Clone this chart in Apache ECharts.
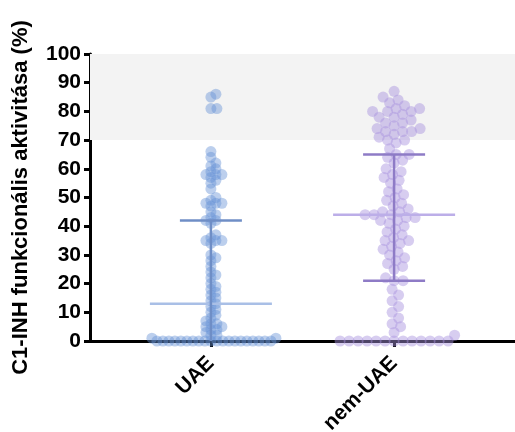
<!DOCTYPE html>
<html>
<head>
<meta charset="utf-8">
<script src="https://cdn.jsdelivr.net/npm/echarts@6/dist/echarts.min.js"></script>
<style>
  html, body { margin: 0; padding: 0; background: #fff; }
  #container { width: 515px; height: 432px; }
</style>
</head>
<body>
<div id="container"></div>
<script>
// data
const groups = ['UAE', 'nem-UAE'];
const uaeValues = [86, 85, 81, 81, 66, 64, 62, 61, 60, 59, 58, 58, 58, 57, 56, 55, 53,
  50, 49, 48, 48, 48, 47, 45, 44, 43, 42, 42, 41, 37, 36, 35, 35, 35, 34,
  30, 29, 28, 26, 24, 23, 22, 20, 19, 18, 17, 16, 15, 14, 13,
  12, 11, 10, 9, 8, 7, 6, 6, 5, 5, 4, 4, 3, 2, 2, 1, 1,
  0, 0, 0, 0, 0, 0, 0, 0, 0, 0, 0, 0, 0, 0, 0, 0, 0, 0, 0, 0];
const nemValues = [87, 85, 84, 83, 82, 81, 81, 80, 80, 80, 79, 78, 78, 77, 76, 76,
  75, 74, 74, 73, 73, 73, 72, 71, 70, 70, 69, 67, 65, 65, 64, 63, 62, 60,
  59, 58, 57, 56, 55, 53, 52, 51, 50, 49, 48, 47, 46, 45, 45, 44, 44, 44,
  43, 43, 42, 42, 41, 40, 39, 38, 37, 36, 35, 35, 34, 33, 32, 31, 30, 29,
  28, 27, 26, 25, 22, 21, 21, 18, 16, 14, 12, 10, 8, 6, 5, 3, 2,
  0, 0, 0, 0, 0, 0, 0, 0, 0, 0, 0, 0, 0];
const medians = [13, 44];
const lowerBars = [0, 21];
const upperBars = [42, 65];
const yTicks = [0, 10, 20, 30, 40, 50, 60, 70, 80, 90, 100];

// layout
const gridLeft = 90, gridTop = 54, gridBottom = 91, gridRight = 0;
const plotW = 515 - gridLeft - gridRight;
const plotH = 432 - gridTop - gridBottom;
const xMax = 2.32;
const centers = [0.66, 1.66];
const pxPerX = plotW / xMax;
const pxPerY = plotH / 100;

// simple beeswarm: move each dot sideways until it no longer collides
function swarm(values, center, dist) {
  const sorted = values.slice().sort((a, b) => a - b);
  const placed = [];
  sorted.forEach(v => {
    const y = v * pxPerY;
    let dx = 0;
    for (let k = 0; k < 400; k++) {
      const cand = k === 0 ? [0] : [k * 0.5, -k * 0.5];
      let found = null;
      for (const c of cand) {
        const ok = placed.every(p => (c - p.dx) ** 2 + (y - p.y) ** 2 >= dist * dist);
        if (ok) { found = c; break; }
      }
      if (found !== null) { dx = found; break; }
    }
    placed.push({ dx: dx, y: y, v: v });
  });
  return placed.map(p => [center + p.dx / pxPerX, p.v]);
}

const colors = [
  { dot: 'rgba(102,145,214,0.55)', mid: '#a9bfe6', bar: '#6f8ec6' },
  { dot: 'rgba(168,148,222,0.58)', mid: '#bcaee8', bar: '#8e7bc6' }
];

const myChart = echarts.init(document.getElementById('container'));
const option = {
  animation: false,
  grid: { left: gridLeft, right: gridRight, top: gridTop, bottom: gridBottom, outerBoundsMode: 'none' },
  xAxis: {
    type: 'value',
    min: 0,
    max: xMax,
    splitLine: { show: false },
    axisLine: { show: true, lineStyle: { color: '#000', width: 3 } },
    axisTick: { show: true, customValues: centers, length: 6, lineStyle: { color: '#000', width: 3 } },
    axisLabel: {
      customValues: centers,
      rotate: 45,
      fontSize: 21,
      fontWeight: 'bold',
      fontFamily: 'Liberation Sans, Arial',
      color: '#000',
      margin: 19,
      formatter: v => groups[centers.indexOf(v)] || ''
    }
  },
  yAxis: {
    type: 'value',
    min: 0,
    max: 100,
    interval: 10,
    name: 'C1-INH funkcionális aktivitása (%)',
    nameLocation: 'middle',
    nameGap: 58,
    nameTextStyle: { fontSize: 22, fontWeight: 'bold', fontFamily: 'Liberation Sans, Arial', color: '#000' },
    splitLine: { show: false },
    axisLine: { show: true, lineStyle: { color: '#000', width: 3 } },
    axisTick: { show: true, length: 6, lineStyle: { color: '#000', width: 3 } },
    axisLabel: {
      fontSize: 21,
      fontWeight: 'bold',
      fontFamily: 'Liberation Sans, Arial',
      color: '#000',
      margin: 9,
      formatter: v => yTicks.includes(v) ? String(v) : ''
    }
  },
  series: [
    {
      type: 'scatter',
      name: groups[0],
      data: swarm(uaeValues, centers[0], 5.6),
      symbolSize: 11,
      itemStyle: { color: colors[0].dot },
      z: 3,
      markArea: {
        silent: true,
        itemStyle: { color: '#f3f3f3' },
        data: [[{ yAxis: 70, xAxis: 0 }, { yAxis: 100, xAxis: xMax }]]
      }
    },
    {
      type: 'scatter',
      name: groups[1],
      data: swarm(nemValues, centers[1], 8.6),
      symbolSize: 11,
      itemStyle: { color: colors[1].dot },
      z: 3
    },
    {
      type: 'custom',
      z: 4,
      data: groups.map((g, i) => [i]),
      renderItem: (params, api) => {
        const i = api.value(0);
        const c = centers[i];
        const pMid = api.coord([c, medians[i]]);
        const pLo = api.coord([c, lowerBars[i]]);
        const pHi = api.coord([c, upperBars[i]]);
        const midHalf = 61, capHalf = 31;
        const children = [
          { type: 'line', shape: { x1: pMid[0] - midHalf, y1: pMid[1], x2: pMid[0] + midHalf, y2: pMid[1] },
            style: { stroke: colors[i].mid, lineWidth: 2.5 } },
          { type: 'line', shape: { x1: pLo[0], y1: pLo[1], x2: pHi[0], y2: pHi[1] },
            style: { stroke: colors[i].bar, lineWidth: 2.5 } },
          { type: 'line', shape: { x1: pHi[0] - capHalf, y1: pHi[1], x2: pHi[0] + capHalf, y2: pHi[1] },
            style: { stroke: colors[i].bar, lineWidth: 2.5 } }
        ];
        if (lowerBars[i] > 0) {
          children.push({ type: 'line', shape: { x1: pLo[0] - capHalf, y1: pLo[1], x2: pLo[0] + capHalf, y2: pLo[1] },
            style: { stroke: colors[i].bar, lineWidth: 2.5 } });
        }
        return { type: 'group', children: children };
      }
    }
  ]
};
myChart.setOption(option);
window.addEventListener('resize', () => {
  myChart.resize();
});
</script>
</body>
</html>
